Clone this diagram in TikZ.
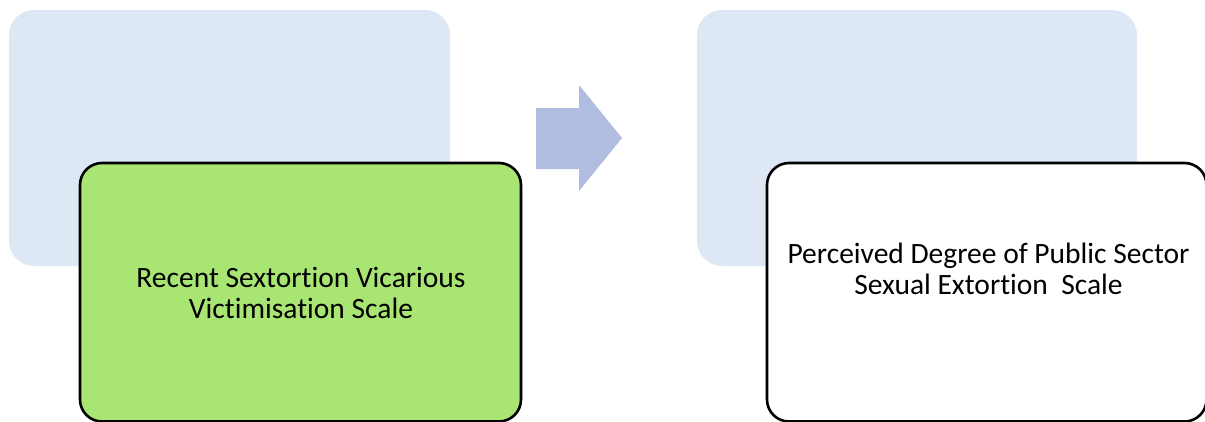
\documentclass[tikz,border=0pt]{standalone}
\usepackage{fontspec}
\setmainfont[Ligatures=NoCommon]{Carlito}
\definecolor{backblue}{RGB}{222,232,244}
\definecolor{stepgreen}{RGB}{169,229,115}
\definecolor{arrowblue}{RGB}{176,188,224}
\begin{document}
\begin{tikzpicture}[x=1pt,y=-1pt,
  backbox/.style={fill=backblue,draw=none,rounded corners=25pt},
  frontbox/.style={draw=black,line width=2.6pt,rounded corners=22pt},
  label/.style={font=\fontsize{29.5}{31}\selectfont,align=center,text=black,anchor=base,inner sep=0pt}]
\useasboundingbox (0,0) rectangle (1205,421);
\begin{scope}
\clip (0,0) rectangle (1205,421);
% background cards
\fill[backbox] (9,10) rectangle (450,266);
\fill[backbox] (697,10) rectangle (1137,266);
% foreground cards
\draw[frontbox,fill=stepgreen] (80,163) rectangle (521,421.5);
\draw[frontbox,fill=white] (767,163) rectangle (1206.5,421.5);
% block arrow between the two stages
\fill[arrowblue] (536,108) -- (579,108) -- (579,85) -- (622,138)
  -- (579,191) -- (579,169) -- (536,169) -- cycle;
\end{scope}
% the base anchor sits on the baseline of the last line
\node[label] (left) at (301,318) {Recent Sextortion Vicarious\\Victimisation Scale};
\node[label] (right) at (988.5,294) {Perceived Degree of Public Sector\\Sexual Extortion\ \ Scale};
\end{tikzpicture}
\end{document}
